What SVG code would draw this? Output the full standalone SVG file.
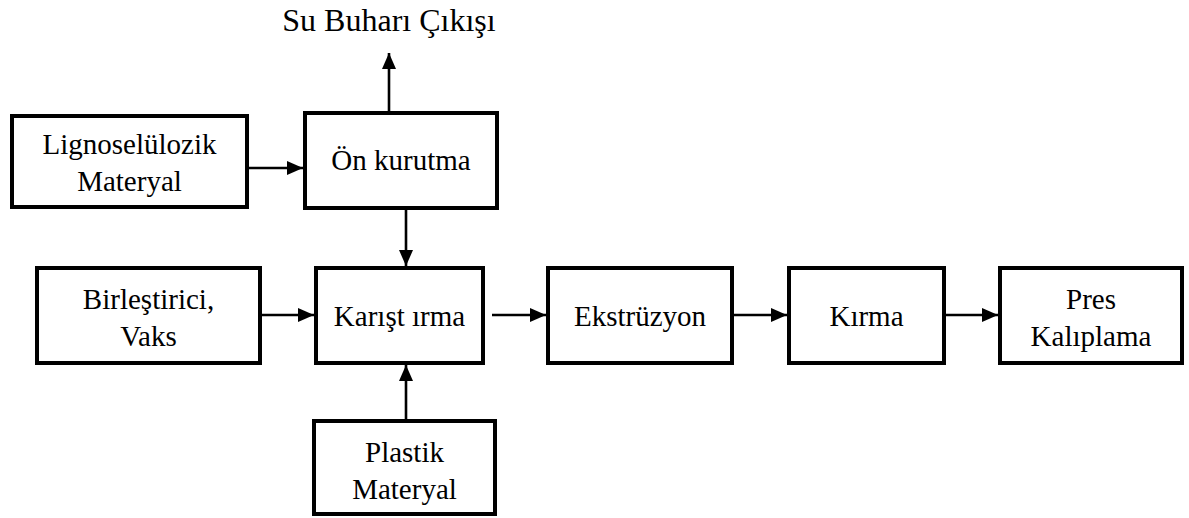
<svg xmlns="http://www.w3.org/2000/svg" width="1189" height="518" viewBox="0 0 1189 518">
<style>
.box{fill:#fff;stroke:#000;stroke-width:4}
.t{font-family:'Liberation Serif','Times New Roman',serif;font-size:29px;fill:#000;text-anchor:middle}
.title{font-size:32px}
.c{stroke:#000;stroke-width:2.6;fill:none;marker-end:url(#ah)}
</style>
<defs>
<marker id="ah" viewBox="0 0 16 14" refX="16" refY="7" markerWidth="16" markerHeight="14" markerUnits="userSpaceOnUse" orient="auto">
<path d="M0,0 L16,7 L0,14 z" fill="#000"/>
</marker>
</defs>
<rect width="1189" height="518" fill="#fff"/>
<text class="t title" x="389" y="31">Su Buharı Çıkışı</text>
<g id="connectors">
<line class="c" x1="247" y1="168" x2="303" y2="168"/>
<line class="c" x1="389" y1="111" x2="389" y2="53"/>
<line class="c" x1="406" y1="210" x2="406" y2="266"/>
<line class="c" x1="262" y1="315" x2="314" y2="315"/>
<line class="c" x1="492" y1="315" x2="546" y2="315"/>
<line class="c" x1="734" y1="315" x2="787" y2="315"/>
<line class="c" x1="946" y1="315" x2="998" y2="315"/>
<line class="c" x1="406" y1="419" x2="406" y2="365"/>
</g>
<g id="lignoseluloz">
<rect class="box" x="12" y="116" width="235" height="91"/>
<text class="t" x="129.5" y="154">Lignoselülozik</text>
<text class="t" x="129.5" y="191">Materyal</text>
</g>
<g id="onkurutma">
<rect class="box" x="305" y="113" width="192" height="95"/>
<text class="t" x="401" y="170">Ön kurutma</text>
</g>
<g id="birlestirici">
<rect class="box" x="37" y="268" width="223" height="95"/>
<text class="t" x="148.5" y="309">Birleştirici,</text>
<text class="t" x="148.5" y="346">Vaks</text>
</g>
<g id="karistirma">
<rect class="box" x="316" y="268" width="167" height="95"/>
<text class="t" x="399.5" y="326">Karışt ırma</text>
</g>
<g id="ekstruzyon">
<rect class="box" x="548" y="268" width="184" height="95"/>
<text class="t" x="640" y="326">Ekstrüzyon</text>
</g>
<g id="kirma">
<rect class="box" x="789" y="268" width="155" height="95"/>
<text class="t" x="866.5" y="326">Kırma</text>
</g>
<g id="pres">
<rect class="box" x="1000" y="268" width="182" height="95"/>
<text class="t" x="1091" y="309">Pres</text>
<text class="t" x="1091" y="346">Kalıplama</text>
</g>
<g id="plastik">
<rect class="box" x="314" y="421" width="181" height="93"/>
<text class="t" x="404.5" y="462">Plastik</text>
<text class="t" x="404.5" y="499">Materyal</text>
</g>
</svg>
